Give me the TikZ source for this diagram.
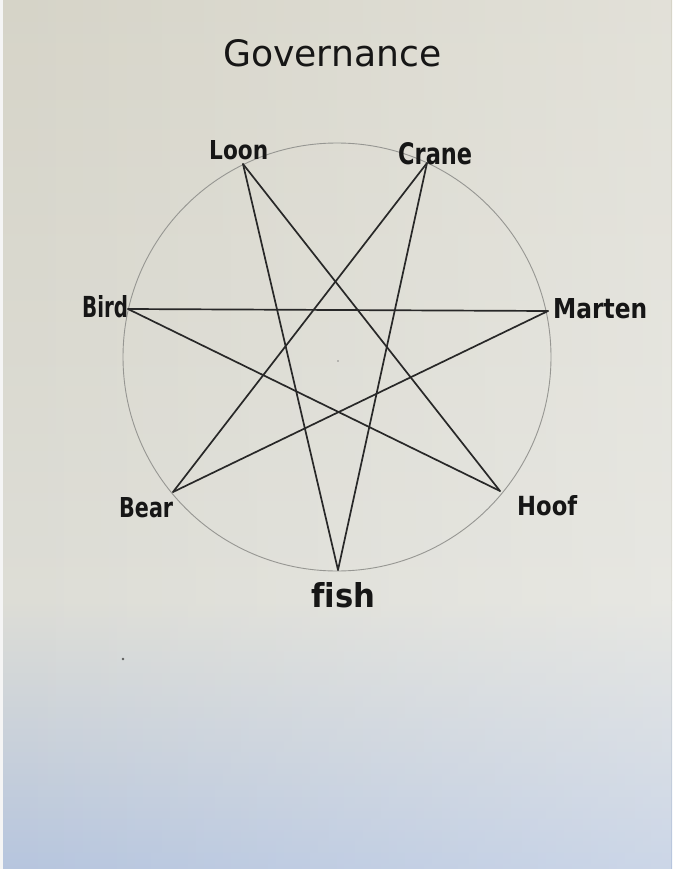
\documentclass[tikz,border=0pt]{standalone}
\usepackage{fontspec}
\setmainfont[Ligatures={NoCommon}]{DejaVu Sans}
\usepackage{graphicx}
\usetikzlibrary{fadings}
\definecolor{bgtop}{RGB}{214,212,200}
\definecolor{bgmid}{RGB}{221,221,214}
\definecolor{bgbot}{RGB}{182,197,222}
\definecolor{ink}{RGB}{22,22,22}
\definecolor{starline}{RGB}{40,40,40}
\definecolor{circ}{RGB}{150,150,146}
\begin{document}
\begin{tikzpicture}[x=1pt,y=-1pt,
  star/.style={draw=starline, line width=1.7pt, line cap=round},
  lbl/.style={anchor=base west, inner sep=0pt, text=ink, font=\bfseries},
  ttl/.style={anchor=base west, inner sep=0pt, text=ink}]
\useasboundingbox (0,0) rectangle (672,869);
\shade[top color=bgtop, bottom color=bgmid] (0,0) rectangle (672,600);
\shade[top color=bgmid, bottom color=bgbot] (0,600) rectangle (672,869);
\fill[white, path fading=west, opacity=0.3] (0,0) rectangle (672,869);
\fill[white!92!gray] (0,0) rectangle (3,869);
% circle
\node[circle, draw=circ, line width=0.9pt, minimum size=428pt, inner sep=0pt] (ring) at (337,357) {};
% vertices
\coordinate (loon) at (243,164);
\coordinate (crane) at (427,163);
\coordinate (marten) at (548,311);
\coordinate (hoof) at (500,491);
\coordinate (fish) at (338,570);
\coordinate (bear) at (173,492);
\coordinate (bird) at (128,309);
% heptagram
\draw[star] (loon) -- (hoof);
\draw[star] (loon) -- (fish);
\draw[star] (crane) -- (fish);
\draw[star] (crane) -- (bear);
\draw[star] (marten) -- (bear);
\draw[star] (marten) -- (bird);
\draw[star] (hoof) -- (bird);
% labels
\node[ttl] (tgov) at (223,67) {\resizebox{218pt}{27pt}{Governance}};
\node[lbl] (tloon) at (209,160) {\resizebox{59pt}{19pt}{Loon}};
\node[lbl] (tcrane) at (398,165) {\resizebox{74pt}{22pt}{Crane}};
\node[lbl] (tbird) at (82,317) {\resizebox{46pt}{22pt}{Bird}};
\node[lbl] (tmarten) at (553,318) {\resizebox{94pt}{20pt}{Marten}};
\node[lbl] (tbear) at (119,517) {\resizebox{54pt}{20pt}{Bear}};
\node[lbl] (thoof) at (517,515) {\resizebox{60pt}{20pt}{Hoof}};
\node[lbl] (tfish) at (311,607) {\resizebox{64pt}{25pt}{fish}};
% specks
\fill[ink!70] (123,659) circle (1.3);
\fill[ink!50] (338,361) circle (0.9);
\end{tikzpicture}
\end{document}
